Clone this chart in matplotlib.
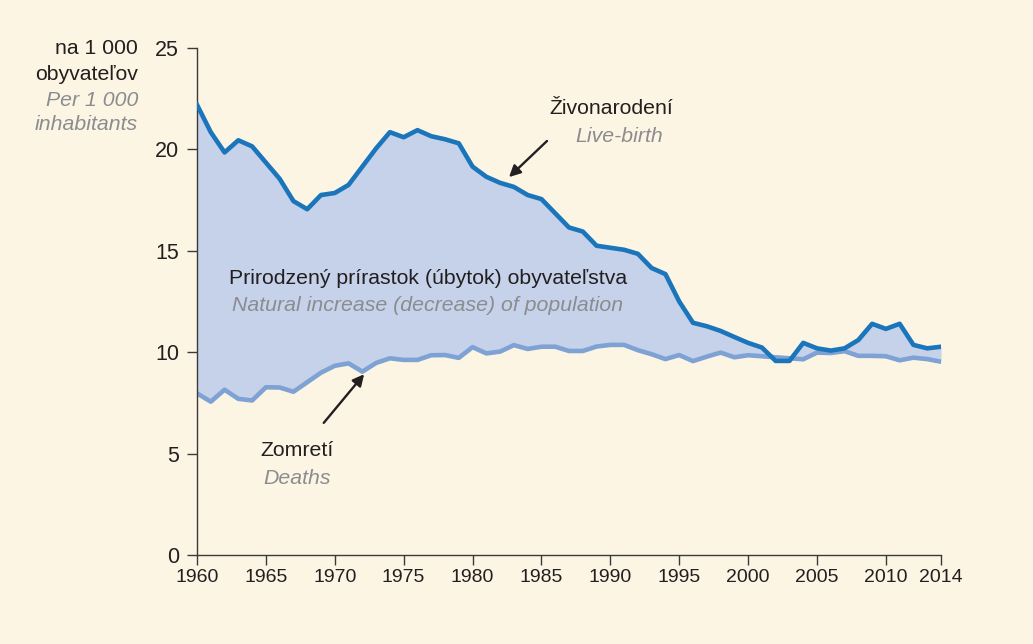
import matplotlib
matplotlib.use("Agg")
import matplotlib.pyplot as plt
import numpy as np

years = list(range(1960, 2015))
births = [22.2, 20.85, 19.85, 20.45, 20.15, 19.35, 18.55, 17.45, 17.05, 17.75,
          17.85, 18.25, 19.15, 20.05, 20.85, 20.6, 20.95, 20.65, 20.5, 20.3,
          19.15, 18.65, 18.35, 18.15, 17.75, 17.55, 16.85, 16.15, 15.95, 15.25,
          15.15, 15.05, 14.85, 14.15, 13.85, 12.5, 11.45, 11.28, 11.05, 10.75,
          10.46, 10.23, 9.57, 9.57, 10.46, 10.19, 10.08, 10.19, 10.6, 11.4,
          11.15, 11.4, 10.36, 10.19, 10.27]
deaths = [7.97, 7.56, 8.15, 7.7, 7.62, 8.27, 8.26, 8.05, 8.52, 8.99,
          9.33, 9.45, 9.04, 9.47, 9.7, 9.62, 9.62, 9.85, 9.86, 9.72,
          10.25, 9.94, 10.03, 10.35, 10.16, 10.27, 10.27, 10.06, 10.06, 10.28,
          10.36, 10.36, 10.1, 9.9, 9.66, 9.86, 9.56, 9.78, 9.98, 9.75,
          9.85, 9.8, 9.75, 9.7, 9.65, 9.98, 9.96, 10.05, 9.82, 9.82,
          9.8, 9.6, 9.73, 9.66, 9.53]
xticks = [1960, 1965, 1970, 1975, 1980, 1985, 1990, 1995, 2000, 2005, 2010, 2014]
yticks = [0, 5, 10, 15, 20, 25]

BG = "#FDF5E4"
DARK = "#1B75BB"
LIGHT = "#7FA2D5"
FILL = "#C5D2EA"
GRAY = "#8A8C8F"
TXT = "#231F20"
FS = 15.3

plt.rcParams['font.family'] = ['Liberation Sans', 'DejaVu Sans']

fig = plt.figure(figsize=(10.33, 6.44), dpi=100, facecolor=BG)
ax = fig.add_axes([197/1033, 89/644, (941-197)/1033, (555-48)/644])
ax.set_facecolor(BG)

ax.fill_between(years, deaths, births, color=FILL, linewidth=0, zorder=1)
ax.plot(years, deaths, color=LIGHT, lw=3.3, zorder=2)
ax.plot(years, births, color=DARK, lw=3.3, zorder=3)

ax.set_xlim(1960, 2014)
ax.set_ylim(0, 25)
ax.set_xticks(xticks)
ax.set_xticklabels([str(x) for x in xticks])
ax.set_yticks(yticks)
ax.tick_params(axis='both', direction='out', length=7, width=1.0, color='#3a3a3a',
               labelcolor=TXT)
ax.tick_params(axis='x', labelsize=14, pad=3)
ax.tick_params(axis='y', labelsize=15.5, pad=6)
for s in ['top', 'right']:
    ax.spines[s].set_visible(False)
for s in ['left', 'bottom']:
    ax.spines[s].set_color('#3a3a3a')
    ax.spines[s].set_linewidth(1.0)

# y-axis label block
fig.text(138/1033, 1 - 48/644, "na 1 000", ha='right', va='center', fontsize=FS, color=TXT)
fig.text(138/1033, 1 - 74/644, "obyvateľov", ha='right', va='center', fontsize=FS, color=TXT)
fig.text(138/1033, 1 - 100/644, "Per 1 000", ha='right', va='center', fontsize=FS, color=GRAY, style='italic')
fig.text(138/1033, 1 - 125/644, "inhabitants", ha='right', va='center', fontsize=FS, color=GRAY, style='italic')

# annotations
ax.text(1990.1, 22.04, "Živonarodení", ha='center', va='center', fontsize=FS, color=TXT)
ax.text(1993.8, 20.66, "Live-birth", ha='right', va='center', fontsize=FS, color=GRAY, style='italic')
ax.annotate("", xy=(1982.5, 18.54), xytext=(1985.55, 20.51),
            arrowprops=dict(arrowstyle='-|>', color='#231F20', lw=1.7, mutation_scale=17))

ax.text(1976.76, 13.61, "Prirodzený prírastok (úbytok) obyvateľstva", ha='center', va='center',
        fontsize=FS, color=TXT)
ax.text(1976.76, 12.28, "Natural increase (decrease) of population", ha='center', va='center',
        fontsize=FS, color=GRAY, style='italic')

ax.text(1967.26, 5.13, "Zomretí", ha='center', va='center', fontsize=FS, color=TXT)
ax.text(1967.26, 3.75, "Deaths", ha='center', va='center', fontsize=FS, color=GRAY, style='italic')
ax.annotate("", xy=(1972.26, 9.02), xytext=(1969.07, 6.41),
            arrowprops=dict(arrowstyle='-|>', color='#231F20', lw=1.7, mutation_scale=17))

fig.savefig("out.png", dpi=100, facecolor=BG)
